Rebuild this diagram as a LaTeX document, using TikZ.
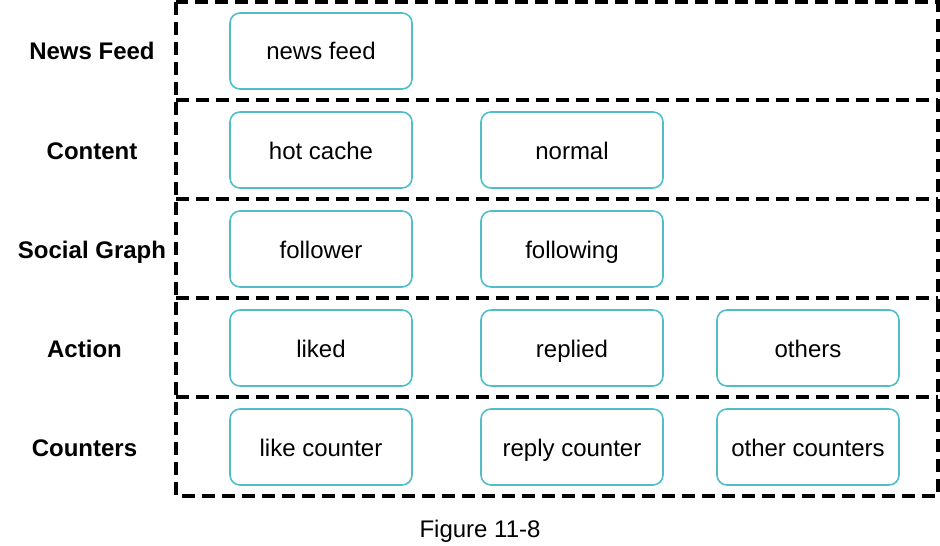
\documentclass[tikz,border=0pt]{standalone}
\usepackage{fontspec}
\setmainfont{Liberation Sans}
\definecolor{teal1}{RGB}{80,190,202}
\begin{document}
\begin{tikzpicture}[x=0.75pt,y=-0.75pt,
  txt/.style={font=\fontsize{18}{21}\selectfont,inner sep=0pt,text height=14pt,text depth=0.5pt},
  cell/.style={txt,draw=teal1,line width=1.2pt,rounded corners=7.5pt,minimum width=136.5pt,minimum height=57pt},
  lab/.style={txt,font=\fontsize{18}{21}\selectfont\bfseries},
  dline/.style={line width=2.6pt,dash pattern=on 10pt off 5pt}]
\useasboundingbox (0,0) rectangle (940,546);
\draw[dline] (176,2) rectangle (938,496);
\foreach \yy in {100,199,298,397}{\draw[dline] (176,\yy) -- (938,\yy);}
\node[lab] (l1) at (92,51) {News Feed};
\node[lab] (l2) at (92,150) {Content};
\node[lab] (l3) at (92,249) {Social Graph};
\node[lab] (l4) at (84.5,348) {Action};
\node[lab] (l5) at (84.5,447) {Counters};
\node[cell] (nf) at (321,51) {news feed};
\node[cell] (hc) at (321,150) {hot cache};
\node[cell] (nm) at (572,150) {normal};
\node[cell] (fr) at (321,249) {follower};
\node[cell] (fg) at (572,249) {following};
\node[cell] (lk) at (321,348) {liked};
\node[cell] (rp) at (572,348) {replied};
\node[cell] (ot) at (808,348) {others};
\node[cell] (lc) at (321,447) {like counter};
\node[cell] (rc) at (572,447) {reply counter};
\node[cell] (oc) at (808,447) {other counters};
\node[txt] (cap) at (480,528) {Figure 11-8};
\end{tikzpicture}
\end{document}
